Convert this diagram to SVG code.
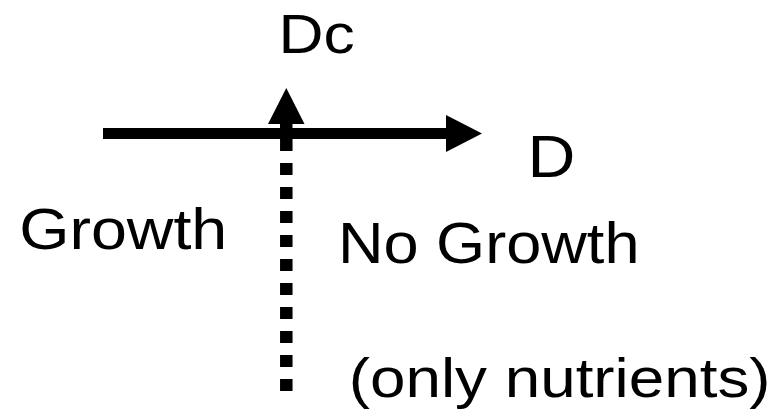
<svg xmlns="http://www.w3.org/2000/svg" width="784" height="418" viewBox="0 0 784 418">
  <style>
    .lbl { font-family: "Liberation Sans", Arial, sans-serif; fill: #000; }
    .axis { stroke: #000; stroke-width: 11; fill: none; }
    .dash { stroke: #000; stroke-width: 12.5; fill: none; stroke-dasharray: 12 12; }
    .head { fill: #000; }
  </style>
  <rect width="784" height="418" fill="#fff"/>

  <!-- connectors: solid D axis and dotted Dc threshold -->
  <g id="connectors">
    <line class="axis" x1="103" y1="133.5" x2="448" y2="133.5"/>
    <polygon class="head" points="446,115 482,133.5 446,152"/>
    <line class="dash" x1="286.3" y1="391" x2="286.3" y2="139"/>
    <rect x="280" y="122" width="12.5" height="8" fill="#000"/>
    <polygon class="head" points="268,124 304.5,124 286.3,88"/>
  </g>

  <g id="label-dc">
    <text class="lbl" x="278.4" y="53.3" font-size="56" textLength="76.2" lengthAdjust="spacingAndGlyphs">Dc</text>
  </g>
  <g id="label-d">
    <text class="lbl" x="527.5" y="176.7" font-size="60" textLength="47.9" lengthAdjust="spacingAndGlyphs">D</text>
  </g>
  <g id="label-growth">
    <text class="lbl" x="19.2" y="249.3" font-size="57" textLength="208.1" lengthAdjust="spacingAndGlyphs">Growth</text>
  </g>
  <g id="label-no-growth">
    <text class="lbl" x="337.9" y="263.4" font-size="58" textLength="301.6" lengthAdjust="spacingAndGlyphs">No Growth</text>
  </g>
  <g id="label-nutrients">
    <text class="lbl" x="348.7" y="396.5" font-size="56" textLength="421.9" lengthAdjust="spacingAndGlyphs">(only nutrients)</text>
  </g>
</svg>
